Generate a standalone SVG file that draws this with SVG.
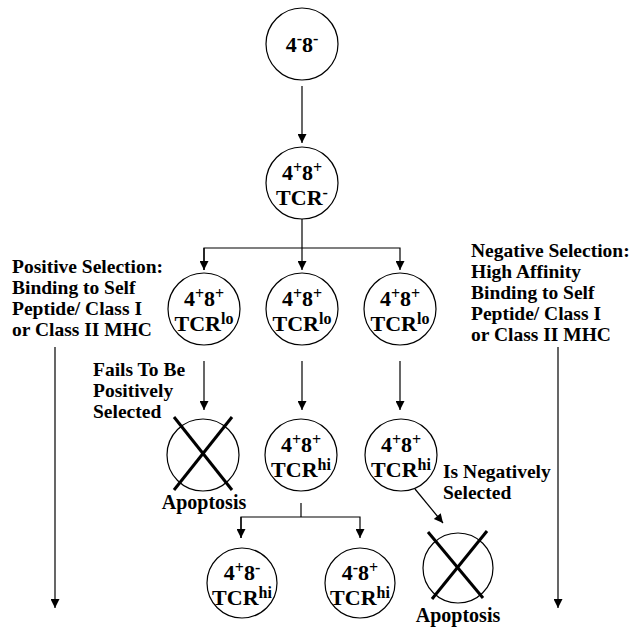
<svg xmlns="http://www.w3.org/2000/svg" width="637" height="629" viewBox="0 0 637 629">
<defs>
<marker id="ah" viewBox="0 0 10 10" refX="10" refY="5" markerWidth="13" markerHeight="9" markerUnits="userSpaceOnUse" orient="auto"><path d="M0,0 L10,5 L0,10 z" fill="#000"/></marker>
</defs>
<style>
.c{fill:#fff;stroke:#000;stroke-width:1.2}
.x{stroke:#000;stroke-width:3}
.t{font-family:"Liberation Serif","Times New Roman",serif;font-weight:bold;font-size:22px;fill:#000;text-anchor:middle}
.s{font-size:16px}
.l{font-family:"Liberation Serif","Times New Roman",serif;font-weight:bold;font-size:19.5px;fill:#000}
.e{stroke:#000;stroke-width:1.2;fill:none}
</style>
<rect width="637" height="629" fill="#fff"/>
<g id="connectors">
<line class="e" x1="302" y1="86" x2="302" y2="143" marker-end="url(#ah)"/>
<line class="e" x1="302" y1="219" x2="302" y2="248"/>
<polyline class="e" points="204,270 204,248 400,248 400,270" marker-end="url(#ah)"/>
<line class="e" x1="204" y1="248" x2="204" y2="270" marker-end="url(#ah)"/>
<line class="e" x1="302" y1="248" x2="302" y2="270" marker-end="url(#ah)"/>
<line class="e" x1="204" y1="361" x2="204" y2="410" marker-end="url(#ah)"/>
<line class="e" x1="302" y1="361" x2="302" y2="410" marker-end="url(#ah)"/>
<line class="e" x1="400" y1="361" x2="400" y2="410" marker-end="url(#ah)"/>
<line class="e" x1="301" y1="503" x2="301" y2="517"/>
<polyline class="e" points="241,538 241,517 360,517 360,538" marker-end="url(#ah)"/>
<line class="e" x1="241" y1="517" x2="241" y2="538" marker-end="url(#ah)"/>
<line class="e" x1="415" y1="489" x2="443" y2="523" marker-end="url(#ah)"/>
<line class="e" x1="55" y1="347" x2="55" y2="608" marker-end="url(#ah)"/>
<line class="e" x1="558" y1="347" x2="558" y2="608" marker-end="url(#ah)"/>
</g>
<g id="n1"><circle class="c" cx="302" cy="44" r="36"/><text class="t" x="302" y="52">4<tspan class="s" dy="-8">-</tspan><tspan dy="8">8</tspan><tspan class="s" dy="-8">-</tspan></text></g>
<g id="n2"><circle class="c" cx="302" cy="183" r="36"/><text class="t" x="302" y="180">4<tspan class="s" dy="-7">+</tspan><tspan dy="7">8</tspan><tspan class="s" dy="-7">+</tspan></text><text class="t" x="302" y="205">TCR<tspan class="s" dy="-7">-</tspan></text></g>
<g id="n3"><circle class="c" cx="204" cy="309" r="36"/><text class="t" x="204" y="306">4<tspan class="s" dy="-7">+</tspan><tspan dy="7">8</tspan><tspan class="s" dy="-7">+</tspan></text><text class="t" x="204" y="331">TCR<tspan class="s" dy="-7">lo</tspan></text></g>
<g id="n4"><circle class="c" cx="302" cy="309" r="36"/><text class="t" x="302" y="306">4<tspan class="s" dy="-7">+</tspan><tspan dy="7">8</tspan><tspan class="s" dy="-7">+</tspan></text><text class="t" x="302" y="331">TCR<tspan class="s" dy="-7">lo</tspan></text></g>
<g id="n5"><circle class="c" cx="400" cy="309" r="36"/><text class="t" x="400" y="306">4<tspan class="s" dy="-7">+</tspan><tspan dy="7">8</tspan><tspan class="s" dy="-7">+</tspan></text><text class="t" x="400" y="331">TCR<tspan class="s" dy="-7">lo</tspan></text></g>
<g id="n6"><circle class="c" cx="203" cy="455" r="36"/><line class="x" x1="174" y1="417" x2="232" y2="490"/><line class="x" x2="174" y1="417" x1="232" y2="490"/><text class="t" x="204" y="509" style="font-size:20px">Apoptosis</text></g>
<g id="n7"><circle class="c" cx="301" cy="455" r="36"/><text class="t" x="301" y="452">4<tspan class="s" dy="-7">+</tspan><tspan dy="7">8</tspan><tspan class="s" dy="-7">+</tspan></text><text class="t" x="301" y="477">TCR<tspan class="s" dy="-7">hi</tspan></text></g>
<g id="n8"><circle class="c" cx="401" cy="455" r="36"/><text class="t" x="401" y="452">4<tspan class="s" dy="-7">+</tspan><tspan dy="7">8</tspan><tspan class="s" dy="-7">+</tspan></text><text class="t" x="401" y="477">TCR<tspan class="s" dy="-7">hi</tspan></text></g>
<g id="n9"><circle class="c" cx="242" cy="583" r="35"/><text class="t" x="242" y="580">4<tspan class="s" dy="-7">+</tspan><tspan dy="7">8</tspan><tspan class="s" dy="-7">-</tspan></text><text class="t" x="242" y="605">TCR<tspan class="s" dy="-7">hi</tspan></text></g>
<g id="n10"><circle class="c" cx="360" cy="583" r="35"/><text class="t" x="360" y="580">4<tspan class="s" dy="-7">-</tspan><tspan dy="7">8</tspan><tspan class="s" dy="-7">+</tspan></text><text class="t" x="360" y="605">TCR<tspan class="s" dy="-7">hi</tspan></text></g>
<g id="n11"><circle class="c" cx="458" cy="568" r="35"/><line class="x" x1="428" y1="532" x2="483" y2="598"/><line class="x" x1="487" y1="531" x2="432" y2="599"/><text class="t" x="458" y="622" style="font-size:20px">Apoptosis</text></g>
<g id="labels">
<text class="l" x="12" y="273">Positive Selection:</text>
<text class="l" x="12" y="294">Binding to Self</text>
<text class="l" x="12" y="315">Peptide/ Class I</text>
<text class="l" x="12" y="336">or Class II MHC</text>
<text class="l" x="93" y="376">Fails To Be</text>
<text class="l" x="93" y="397">Positively</text>
<text class="l" x="93" y="418">Selected</text>
<text class="l" x="443" y="478">Is Negatively</text>
<text class="l" x="443" y="499">Selected</text>
<text class="l" x="471" y="257">Negative Selection:</text>
<text class="l" x="471" y="278">High Affinity</text>
<text class="l" x="471" y="299">Binding to Self</text>
<text class="l" x="471" y="320">Peptide/ Class I</text>
<text class="l" x="471" y="341">or Class II MHC</text>
</g>
</svg>
